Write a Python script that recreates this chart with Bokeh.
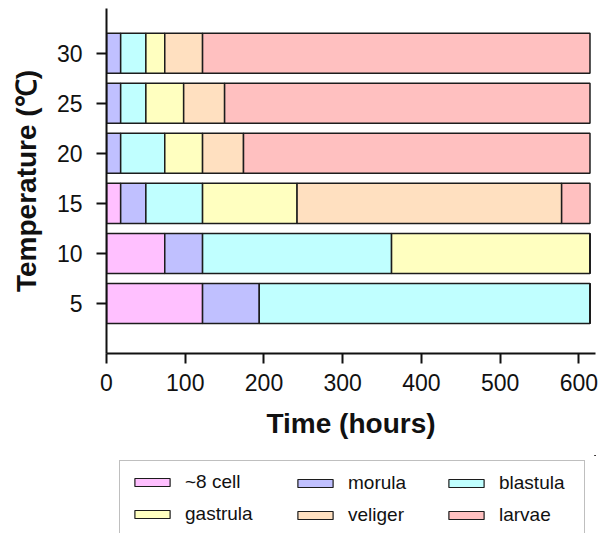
from bokeh.plotting import figure
from bokeh.layouts import column
from bokeh.models import ColumnDataSource, Range1d, FixedTicker, Legend, LegendItem
from bokeh.embed import file_html
from bokeh.resources import INLINE

# Data (durations in hours of each development stage, per temperature)
temps = [5, 10, 15, 20, 25, 30]
stages = ["~8 cell", "morula", "blastula", "gastrula", "veliger", "larvae"]
cell8 = [122, 74, 18, 0, 0, 0]
morula = [72, 48, 32, 18, 18, 18]
blastula = [420, 240, 72, 56, 32, 32]
gastrula = [0, 252, 120, 48, 48, 24]
veliger = [0, 0, 336, 52, 52, 48]
larvae = [0, 0, 36, 440, 464, 492]
x_ticks = [0, 100, 200, 300, 400, 500, 600]

colors = ["#FFC0FF", "#C0C0FF", "#C0FFFF", "#FFFFC0", "#FFE0C0", "#FFC0C0"]
keys = ["cell8", "morula", "blastula", "gastrula", "veliger", "larvae"]

src = ColumnDataSource(dict(temp=temps, cell8=cell8, morula=morula, blastula=blastula,
                            gastrula=gastrula, veliger=veliger, larvae=larvae))

FONT = "Liberation Sans"
EDGE = "#1c1c1c"

p = figure(width=607, height=455, output_backend="svg", toolbar_location=None,
           x_range=Range1d(0, 621), y_range=Range1d(0, 34.47),
           min_border_left=106, min_border_right=12, min_border_top=8, min_border_bottom=102)
p.outline_line_color = None
p.xgrid.visible = False
p.ygrid.visible = False

rs = p.hbar_stack(keys, y="temp", height=4, fill_color=colors, line_color=EDGE,
                  line_width=1.5, source=src)

for ax in (p.xaxis[0], p.yaxis[0]):
    ax.axis_line_width = 2
    ax.axis_line_color = "#111111"
    ax.major_tick_line_width = 2
    ax.major_tick_line_color = "#111111"
    ax.major_tick_out = 10
    ax.major_tick_in = 0
    ax.minor_tick_line_color = None
    ax.major_label_text_font = FONT
    ax.major_label_text_font_size = "23px"
    ax.major_label_text_color = "#111111"
    ax.axis_label_text_font = FONT
    ax.axis_label_text_font_size = "28px"
    ax.axis_label_text_font_style = "bold"
    ax.axis_label_text_color = "#111111"

p.xaxis[0].ticker = FixedTicker(ticks=x_ticks)
p.yaxis[0].ticker = FixedTicker(ticks=temps)
p.xaxis[0].axis_label = "Time (hours)"
p.yaxis[0].axis_label = "Temperature (\u2103)"
p.xaxis[0].major_label_standoff = 10
p.yaxis[0].major_label_standoff = 14
p.xaxis[0].axis_label_standoff = 14
p.yaxis[0].axis_label_standoff = 12

# Legend panel: a second figure below the chart. Its renderers use the same
# data but its ranges keep the bars far out of view; only the legend shows.
p2 = figure(width=607, height=78, output_backend="svg", toolbar_location=None,
            x_range=Range1d(-5000, -4999), y_range=Range1d(-5000, -4999),
            min_border_left=106, min_border_right=12, min_border_top=0, min_border_bottom=0)
p2.outline_line_color = None
p2.axis.visible = False
p2.grid.visible = False
lr = p2.hbar_stack(keys, y="temp", height=4, fill_color=colors, line_color=EDGE,
                   line_width=1.2, source=src)

items = [LegendItem(label=stages[i], renderers=[lr[i]]) for i in range(6)]

def make_legend(its, x, boxed):
    lg = Legend(items=its, location=(x, -3), orientation="vertical",
                glyph_width=44, glyph_height=10, label_standoff=11,
                label_text_font=FONT, label_text_font_size="19px",
                label_text_color="#111111", label_height=22,
                spacing=10, padding=10, margin=0)
    if boxed:
        lg.label_width = 389
        lg.border_line_color = "#808080"
        lg.border_line_width = 1
        lg.background_fill_color = "white"
        lg.background_fill_alpha = 1
    else:
        lg.border_line_alpha = 0
        lg.background_fill_alpha = 0
    return lg

p2.add_layout(make_legend([items[0], items[3]], 13, True), "center")
p2.add_layout(make_legend([items[1], items[4]], 177, False), "center")
p2.add_layout(make_legend([items[2], items[5]], 328, False), "center")

layout = column(p, p2, spacing=0)
open("out.html", "w").write(file_html(layout, INLINE))
